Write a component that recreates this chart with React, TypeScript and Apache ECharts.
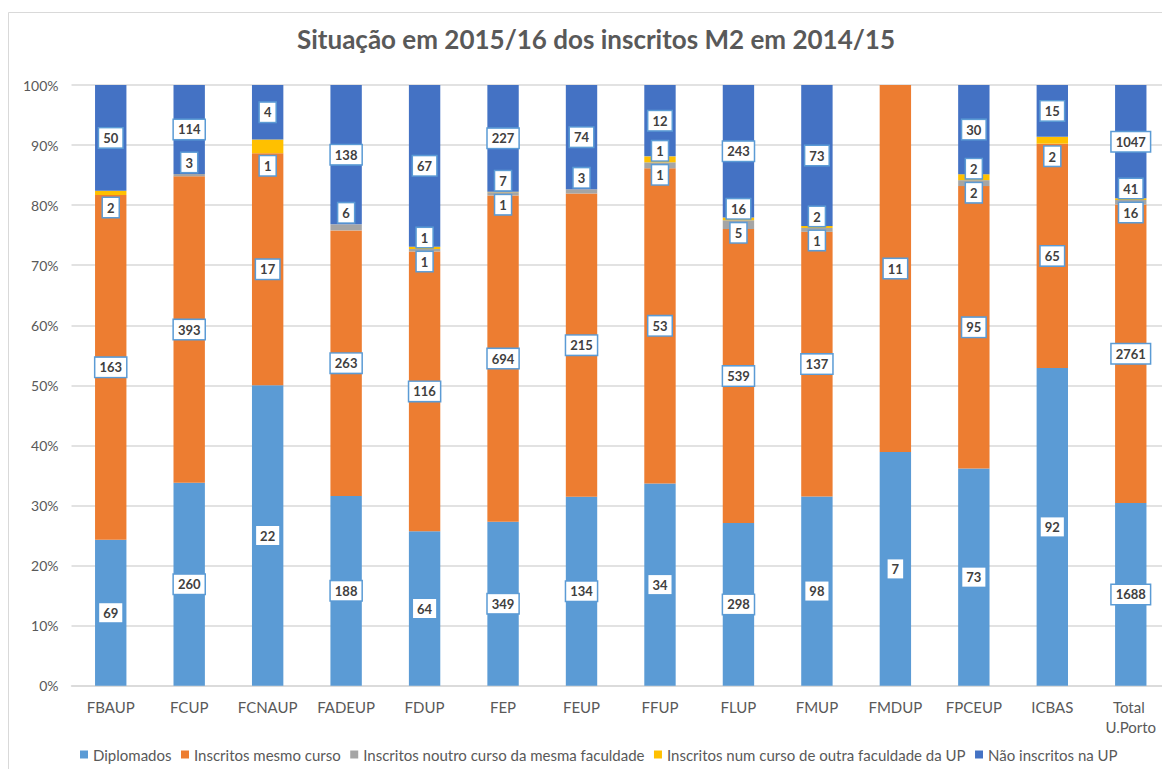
import React, { useEffect, useRef } from "react";
import * as echarts from "echarts";

const categories = [
  "FBAUP", "FCUP", "FCNAUP", "FADEUP", "FDUP", "FEP", "FEUP",
  "FFUP", "FLUP", "FMUP", "FMDUP", "FPCEUP", "ICBAS", "Total U.Porto",
];
const diplomados = [69, 260, 22, 188, 64, 349, 134, 34, 298, 98, 7, 73, 92, 1688];
const inscritosMesmoCurso = [163, 393, 17, 263, 116, 694, 215, 53, 539, 137, 11, 95, 65, 2761];
const inscritosNoutroCurso = [0, 3, 0, 6, 1, 7, 3, 1, 16, 2, 0, 2, 0, 41];
const inscritosOutraFaculdade = [2, 0, 1, 0, 1, 1, 0, 1, 5, 1, 0, 2, 2, 16];
const naoInscritos = [50, 114, 4, 138, 67, 227, 74, 12, 243, 73, 0, 30, 15, 1047];
const yTicks = [0, 10, 20, 30, 40, 50, 60, 70, 80, 90, 100];

const seriesNames = [
  "Diplomados",
  "Inscritos mesmo curso",
  "Inscritos noutro curso da mesma faculdade",
  "Inscritos num curso de outra faculdade da UP",
  "Não inscritos na UP",
];
const seriesRaw = [diplomados, inscritosMesmoCurso, inscritosNoutroCurso, inscritosOutraFaculdade, naoInscritos];
const seriesColors = ["#5B9BD5", "#ED7D31", "#A5A5A5", "#FFC000", "#4472C4"];
const labelPositions = ["inside", "inside", "top", "bottom", "inside"];
const labelDistances = [0, 0, 2, 3, 0];

const FONT = "Lato, 'Noto Sans', sans-serif";

export default function App() {
  const ref = useRef<HTMLDivElement>(null);

  useEffect(() => {
    if (!ref.current) return;
    const chart = echarts.init(ref.current, undefined, { renderer: "svg" });
    const totals = categories.map((_, i) =>
      seriesRaw.reduce((s, arr) => s + arr[i], 0)
    );

    const series = seriesRaw.map((raw, si) => ({
      name: seriesNames[si],
      type: "bar",
      stack: "total",
      barCategoryGap: "60%",
      itemStyle: { color: seriesColors[si] },
      data: raw.map((v, i) => (v === 0 ? null : (v / totals[i]) * 100)),
      label: {
        show: true,
        position: labelPositions[si],
        distance: labelDistances[si],
        formatter: (p: any) => String(raw[p.dataIndex]),
        color: "#404040",
        fontFamily: FONT,
        fontWeight: "bold",
        fontSize: 13,
        lineHeight: 14,
        backgroundColor: "#FFFFFF",
        borderColor: "#5B9BD5",
        borderWidth: 1.5,
        padding: [3, 4, 2, 4],
      },
      emphasis: { disabled: true },
    }));

    chart.setOption({
      animation: false,
      textStyle: { fontFamily: FONT },
      graphic: [
        {
          type: "rect",
          shape: { x: 0.5, y: 4.5, width: 1400, height: 1000 },
          style: { fill: "none", stroke: "#D9D9D9", lineWidth: 1 },
          silent: true,
          z: -10,
        },
        {
          type: "text",
          x: 588,
          y: 31,
          style: {
            text: "Situação em 2015/16 dos inscritos M2 em 2014/15",
            fill: "#595959",
            font: `bold 26px ${FONT}`,
            textAlign: "center",
            textVerticalAlign: "middle",
          },
        },
      ],
      legend: {
        left: 72,
        top: 739,
        padding: 0,
        icon: "rect",
        itemWidth: 8,
        itemHeight: 8,
        itemGap: 9.5,
        textStyle: { color: "#595959", fontSize: 15, fontFamily: FONT },
        data: seriesNames,
      },
      grid: { left: 63.5, right: 0, top: 77, bottom: 83.3, containLabel: false },
      xAxis: {
        type: "category",
        data: categories,
        axisLine: { lineStyle: { color: "#D9D9D9", width: 1.5 } },
        axisTick: { show: false },
        axisLabel: {
          color: "#595959",
          fontSize: 15,
          fontFamily: FONT,
          margin: 11,
          interval: 0,
          width: 70,
          overflow: "break",
          lineHeight: 20,
        },
      },
      yAxis: {
        type: "value",
        min: yTicks[0],
        max: yTicks[yTicks.length - 1],
        interval: yTicks[1] - yTicks[0],
        axisLine: { show: false },
        axisTick: { show: false },
        splitLine: { lineStyle: { color: "#D9D9D9", width: 1.5 } },
        axisLabel: {
          color: "#595959",
          fontSize: 14,
          fontFamily: FONT,
          margin: 13,
          formatter: "{value}%",
        },
      },
      series,
    });

    return () => chart.dispose();
  }, []);

  return <div ref={ref} style={{ width: 1162, height: 761 }} />;
}
